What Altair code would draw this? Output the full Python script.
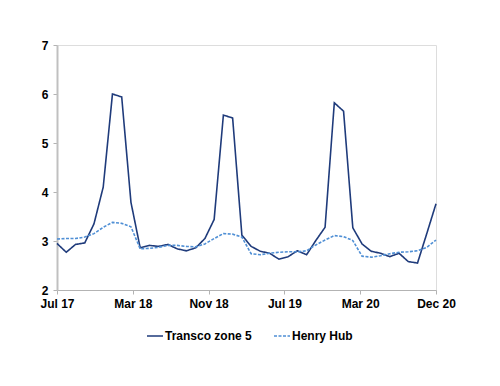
import altair as alt
import pandas as pd

months = ["Jul 17","Aug 17","Sep 17","Oct 17","Nov 17","Dec 17","Jan 18","Feb 18","Mar 18","Apr 18","May 18","Jun 18",
          "Jul 18","Aug 18","Sep 18","Oct 18","Nov 18","Dec 18","Jan 19","Feb 19","Mar 19","Apr 19","May 19","Jun 19",
          "Jul 19","Aug 19","Sep 19","Oct 19","Nov 19","Dec 19","Jan 20","Feb 20","Mar 20","Apr 20","May 20","Jun 20",
          "Jul 20","Aug 20","Sep 20","Oct 20","Nov 20","Dec 20"]
transco = [2.95,2.77,2.93,2.96,3.35,4.10,6.00,5.94,3.79,2.86,2.91,2.89,
           2.93,2.84,2.80,2.86,3.05,3.44,5.57,5.51,3.12,2.89,2.79,2.75,
           2.63,2.68,2.80,2.72,3.01,3.28,5.82,5.65,3.27,2.94,2.79,2.75,
           2.68,2.75,2.58,2.55,3.15,3.76]
henry = [3.04,3.05,3.05,3.08,3.15,3.28,3.38,3.36,3.29,2.84,2.85,2.87,
         2.91,2.91,2.89,2.88,2.94,3.05,3.15,3.14,3.08,2.74,2.72,2.75,
         2.77,2.78,2.78,2.80,2.92,3.02,3.11,3.09,3.01,2.69,2.67,2.70,
         2.74,2.77,2.78,2.80,2.87,3.02]
tick_labels = ["Jul 17", "Mar 18", "Nov 18", "Jul 19", "Mar 20", "Dec 20"]
series_names = ["Transco zone 5", "Henry Hub"]

n = len(months)
rows = []
for i in range(n):
    rows.append({"i": i, "month": months[i], "series": series_names[0], "value": transco[i]})
    rows.append({"i": i, "month": months[i], "series": series_names[1], "value": henry[i]})
df = pd.DataFrame(rows)

span = n - 1
tick_vals = [span * k / (len(tick_labels) - 1) for k in range(len(tick_labels))]
label_expr = " : ".join(
    [f"abs(datum.value - {v}) < 0.01 ? '{lab}'" for v, lab in zip(tick_vals, tick_labels)]
) + " : ''"

font = "Liberation Sans"

chart = alt.Chart(df).mark_line(strokeWidth=1.6).encode(
    x=alt.X("i:Q", scale=alt.Scale(domain=[0, span], nice=False, zero=False),
            axis=alt.Axis(values=tick_vals, labelExpr=label_expr, title=None, grid=False,
                          domainColor="#b3b3b3", tickColor="#b3b3b3", tickSize=4,
                          labelFont=font, labelFontSize=12, labelFontWeight="bold",
                          labelColor="#000000", labelPadding=4, labelFlush=False)),
    y=alt.Y("value:Q", scale=alt.Scale(domain=[2, 7], nice=False, zero=False),
            axis=alt.Axis(values=[2, 3, 4, 5, 6, 7], title=None, grid=False,
                          domainColor="#c0c0c0", domainWidth=2, tickColor="#b3b3b3", tickSize=4,
                          labelFont=font, labelFontSize=12, labelFontWeight="bold",
                          labelColor="#000000", labelPadding=5)),
    color=alt.Color("series:N", scale=alt.Scale(domain=series_names, range=["#1F3B7B", "#4F8FD5"]),
                    legend=alt.Legend(title=None, orient="none", legendX=89, legendY=282,
                                      direction="horizontal", symbolType="stroke", symbolSize=256,
                                      symbolStrokeWidth=1.6, labelFont=font, labelFontSize=12,
                                      labelFontWeight="bold", labelColor="#000000",
                                      labelOffset=1, columnPadding=18)),
    strokeDash=alt.StrokeDash("series:N", scale=alt.Scale(domain=series_names, range=[[1, 0], [3, 1.5]]),
                              legend=None),
    detail="series:N",
).properties(
    width=379, height=245,
    padding={"left": 49, "top": 37, "right": 50, "bottom": 80},
    autosize=alt.AutoSizeParams(type="none"),
).configure_view(stroke=None).configure(background="#ffffff")

chart.save("out.html", embed_options={"renderer": "svg", "actions": False})
